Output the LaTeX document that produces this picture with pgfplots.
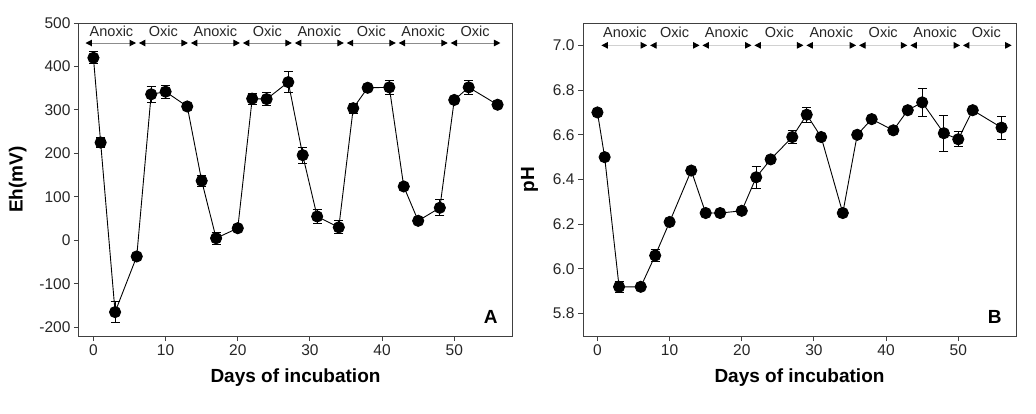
\documentclass[border=0pt]{standalone}
\usepackage{pgfplots}
\pgfplotsset{compat=1.18}
\usepackage{fontspec}
\setmainfont{Liberation Sans}
\usetikzlibrary{arrows.meta}
\definecolor{frame}{HTML}{404040}

\pgfplotstableread{
x y e
0 420 14
1 225 11
3 -165 24
6 -37 8
8 336 19
10 342 15
13 308 5
15 137 13
17 5 14
20 28 8
22 326 13
24 325 15
27 364 24
29 196 18
31 55 17
34 30 15
36 304 12
38 351 6
41 352 16
43 124 5
45 45 4
48 75 18
50 323 6
52 352 16
56 312 8
}\eh

\pgfplotstableread{
x y e
0 6.70 0
1 6.50 0
3 5.92 0.025
6 5.92 0
8 6.06 0.025
10 6.21 0.015
13 6.44 0.01
15 6.25 0.01
17 6.25 0
20 6.26 0.015
22 6.41 0.05
24 6.49 0.012
27 6.59 0.028
29 6.69 0.034
31 6.59 0
34 6.25 0.015
36 6.60 0.015
38 6.67 0
41 6.62 0
43 6.71 0
45 6.745 0.064
48 6.607 0.081
50 6.58 0.034
52 6.71 0
56 6.632 0.051
}\ph

\tikzset{
  seg/.style={draw=#1, line width=1pt,
    {Triangle[length=6.5pt,width=6.5pt,color=black]}-{Triangle[length=6.5pt,width=6.5pt,color=black]}},
  lab/.style={font=\fontsize{14.5}{16}\selectfont, text=black!85},
}
\pgfplotsset{
  panel/.style={
    scale only axis, width=433pt, height=313pt,
    xmin=-2, xmax=58,
    xtick={0,10,...,50},
    axis line style={frame, line width=1pt},
    tick style={frame, line width=1pt},
    tick align=outside, tick pos=left, major tick length=5pt,
    ticklabel style={font=\fontsize{15.5}{17}\selectfont, text=black!85},
    label style={font=\bfseries\fontsize{19}{22}\selectfont},
    xlabel={Days of incubation},
    xlabel style={yshift=-6pt},
    /pgf/number format/assume math mode=true,
    clip=false,
  },
  ser/.style={black, line width=0.9pt, mark=*, mark size=5.6pt,
    mark options={fill=black},
    error bars/.cd, y dir=both, y explicit,
    error bar style={line width=0.9pt},
    error mark options={line width=0.9pt, mark size=4.5pt, rotate=90}},
}

\begin{document}
\begin{tikzpicture}
\path[use as bounding box] (-79pt,-77pt) rectangle (957pt,336pt);
\begin{axis}[panel,
  ymin=-220, ymax=500,
  ytick={-200,-100,0,100,200,300,400,500},
  yticklabels={-200,-100,0,100,200,300,400,500},
  ylabel={Eh(mV)},
  ylabel style={yshift=6pt},
]
\addplot+[ser] table[x=x,y=y,y error=e]{\eh};
\foreach \a/\b in {-1.1/5.9, 6.3/13.1, 13.5/20.3, 20.7/27.5, 27.9/34.7, 35.1/41.9, 42.3/49.1, 49.5/56.4}{
  \edef\tmp{\noexpand\draw[seg=black!45] (axis cs:\a,454) -- (axis cs:\b,454);}\tmp
}
\node[lab] at (axis cs:2.5,482) {Anoxic};
\node[lab] at (axis cs:9.7,482) {Oxic};
\node[lab] at (axis cs:16.9,482) {Anoxic};
\node[lab] at (axis cs:24.1,482) {Oxic};
\node[lab] at (axis cs:31.3,482) {Anoxic};
\node[lab] at (axis cs:38.5,482) {Oxic};
\node[lab] at (axis cs:45.7,482) {Anoxic};
\node[lab] at (axis cs:52.9,482) {Oxic};
\node[font=\bfseries\fontsize{19}{22}\selectfont, anchor=south east] at (rel axis cs:0.975,0.03) {A};
\end{axis}

\begin{axis}[panel, at={(504pt,0pt)},
  ymin=5.7, ymax=7.1,
  ytick={5.8,6.0,...,7.01},
  yticklabel style={/pgf/number format/.cd, fixed, fixed zerofill, precision=1},
  ylabel={pH},
  ylabel style={yshift=8pt},
]
\addplot+[ser] table[x=x,y=y,y error=e]{\ph};
\foreach \a/\b in {0.55/6.9, 7.3/14.15, 14.55/21.35, 21.75/28.55, 28.95/35.85, 36.25/42.95, 43.35/50.25, 50.65/57.4}{
  \edef\tmp{\noexpand\draw[seg=black!18] (axis cs:\a,7.0) -- (axis cs:\b,7.0);}\tmp
}
\node[lab] at (axis cs:3.8,7.057) {Anoxic};
\node[lab] at (axis cs:10.7,7.057) {Oxic};
\node[lab] at (axis cs:17.9,7.057) {Anoxic};
\node[lab] at (axis cs:25.2,7.057) {Oxic};
\node[lab] at (axis cs:32.4,7.057) {Anoxic};
\node[lab] at (axis cs:39.6,7.057) {Oxic};
\node[lab] at (axis cs:46.8,7.057) {Anoxic};
\node[lab] at (axis cs:53.9,7.057) {Oxic};
\node[font=\bfseries\fontsize{19}{22}\selectfont, anchor=south east] at (rel axis cs:0.975,0.03) {B};
\end{axis}
\end{tikzpicture}
\end{document}
